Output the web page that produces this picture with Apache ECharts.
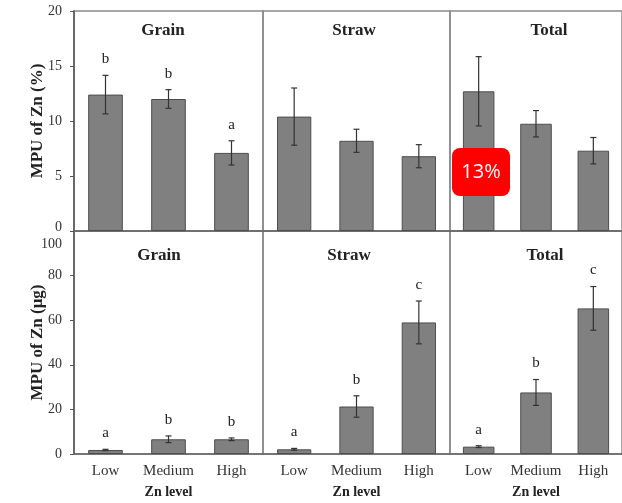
<!DOCTYPE html>
<html><head><meta charset="utf-8">
<script src="https://cdn.jsdelivr.net/npm/echarts@6/dist/echarts.min.js"></script>
<style>html,body{margin:0;padding:0;background:#fff}#c{width:622px;height:503px}</style>
</head><body><div id="c"></div>
<script>
// ---- data ----
const categories = ['Low', 'Medium', 'High'];
const panelTitles = ['Grain', 'Straw', 'Total'];
const pctTicks = [0, 5, 10, 15, 20];
const ugTicks = [0, 20, 40, 60, 80, 100];
const pctAxisName = 'MPU of Zn (%)';
const ugAxisName = 'MPU of Zn (μg)';
const xAxisName = 'Zn level';

const pctGrain = [12.4, 12.0, 7.1];
const pctGrainErr = [1.75, 0.85, 1.1];
const pctGrainLetters = ['b', 'b', 'a'];
const pctStraw = [10.4, 8.2, 6.8];
const pctStrawErr = [2.6, 1.05, 1.05];
const pctTotal = [12.7, 9.75, 7.3];
const pctTotalErr = [3.15, 1.2, 1.2];

const ugGrain = [1.8, 6.6, 6.6];
const ugGrainErr = [0.3, 1.5, 0.6];
const ugGrainLetters = ['a', 'b', 'b'];
const ugStraw = [2.1, 21.3, 59.0];
const ugStrawErr = [0.4, 4.8, 9.6];
const ugStrawLetters = ['a', 'b', 'c'];
const ugTotal = [3.3, 27.6, 65.3];
const ugTotalErr = [0.4, 5.8, 9.8];
const ugTotalLetters = ['a', 'b', 'c'];

const badgeText = '13%';

// ---- layout ----
const colLeft = [74, 263, 450], colWidth = [189, 187, 188];
const rowTop = [11, 231], rowHeight = [220, 223];
const titleX = [[163, 354, 549], [159, 349, 545]];
const titleY = [31, 256];
const SERIF = '"Liberation Serif", "Times New Roman", serif';

const panels = [
  {r:0, c:0, vals:pctGrain, err:pctGrainErr, letters:pctGrainLetters},
  {r:0, c:1, vals:pctStraw, err:pctStrawErr, letters:null},
  {r:0, c:2, vals:pctTotal, err:pctTotalErr, letters:null},
  {r:1, c:0, vals:ugGrain, err:ugGrainErr, letters:ugGrainLetters},
  {r:1, c:1, vals:ugStraw, err:ugStrawErr, letters:ugStrawLetters},
  {r:1, c:2, vals:ugTotal, err:ugTotalErr, letters:ugTotalLetters}
];

const grid = [], xAxis = [], yAxis = [], series = [], graphic = [];
panels.forEach((p, i) => {
  const ticks = p.r === 0 ? pctTicks : ugTicks;
  grid.push({left: colLeft[p.c], width: colWidth[p.c], top: rowTop[p.r], height: rowHeight[p.r],
    show: true, borderColor: '#8a8a8a', borderWidth: 1.5, backgroundColor: 'transparent', containLabel: false});
  xAxis.push({type: 'category', gridIndex: i, data: categories,
    axisLine: {show: true, lineStyle: {color: '#666', width: 1.5}},
    axisTick: {show: false},
    axisLabel: {show: p.r === 1, interval: 0, hideOverlap: false,
      fontFamily: SERIF, fontSize: 15, color: '#333', margin: 10},
    name: p.r === 1 ? xAxisName : '', nameLocation: 'middle', nameGap: 31, nameMoveOverlap: false,
    nameTextStyle: {fontFamily: SERIF, fontSize: 14, fontWeight: 'bold', color: '#222'}
  });
  const first = p.c === 0;
  yAxis.push({type: 'value', gridIndex: i, min: ticks[0], max: ticks[ticks.length - 1],
    interval: ticks[1] - ticks[0],
    splitLine: {show: false},
    axisLine: {show: first, lineStyle: {color: '#555', width: 1.5}},
    axisTick: {show: first, inside: false, length: 4, lineStyle: {color: '#555'}},
    axisLabel: {show: first, fontFamily: SERIF, fontSize: 14, color: '#333', margin: 12,
      formatter: v => {
        if (p.r === 0 && v === ticks[0]) return '{lo|' + v + '}';
        if (p.r === 1 && v === ticks[ticks.length - 1]) return '{hi|' + v + '}';
        return String(v);
      },
      rich: {
        lo: {fontFamily: SERIF, fontSize: 14, color: '#333', padding: [0, 0, 8, 0]},
        hi: {fontFamily: SERIF, fontSize: 14, color: '#333', padding: [26, 0, 0, 0]}
      }
    },
    name: first ? (p.r === 0 ? pctAxisName : ugAxisName) : '',
    nameLocation: 'middle', nameGap: 28, nameMoveOverlap: false,
    nameTextStyle: {fontFamily: SERIF, fontSize: 17, fontWeight: 'bold', color: '#222'}
  });
  series.push({type: 'bar', xAxisIndex: i, yAxisIndex: i, data: p.vals, barWidth: '55%',
    itemStyle: {color: '#808080', borderColor: '#4d4d4d', borderWidth: 1}, z: 2});
  const letters = p.letters;
  series.push({type: 'custom', xAxisIndex: i, yAxisIndex: i, z: 5,
    encode: {x: 0, y: [1, 2]},
    data: p.vals.map((v, k) => [k, v - p.err[k], v + p.err[k]]),
    renderItem(params, api) {
      const lo = api.coord([api.value(0), api.value(1)]);
      const hi = api.coord([api.value(0), api.value(2)]);
      const x = lo[0], cw = 3;
      const st = {stroke: '#333', lineWidth: 1.2};
      const children = [
        {type: 'line', shape: {x1: x, y1: hi[1], x2: x, y2: lo[1]}, style: st},
        {type: 'line', shape: {x1: x - cw, y1: hi[1], x2: x + cw, y2: hi[1]}, style: st},
        {type: 'line', shape: {x1: x - cw, y1: lo[1], x2: x + cw, y2: lo[1]}, style: st}
      ];
      const L = letters ? letters[params.dataIndex] : '';
      if (L) children.push({type: 'text', x: x, y: hi[1] - 16,
        style: {text: L, align: 'center', verticalAlign: 'middle', font: '15px ' + SERIF, fill: '#222'}});
      return {type: 'group', children};
    }
  });
  graphic.push({type: 'text', x: titleX[p.r][p.c], y: titleY[p.r], z: 10,
    style: {text: panelTitles[p.c], align: 'center', verticalAlign: 'middle',
      font: 'bold 17px ' + SERIF, fill: '#222'}});
});

graphic.push({type: 'rect', x: 452, y: 148, z: 100,
  shape: {width: 58, height: 48, r: 8}, style: {fill: '#ff0000'}});
graphic.push({type: 'text', x: 481, y: 172, z: 101,
  style: {text: badgeText, align: 'center', verticalAlign: 'middle',
    font: '20px "Open Sans", sans-serif', fill: '#fff'}});

const chart = echarts.init(document.getElementById('c'), null, {renderer: 'canvas'});
chart.setOption({animation: false, backgroundColor: '#fff', grid, xAxis, yAxis, series, graphic});
</script>
</body></html>
